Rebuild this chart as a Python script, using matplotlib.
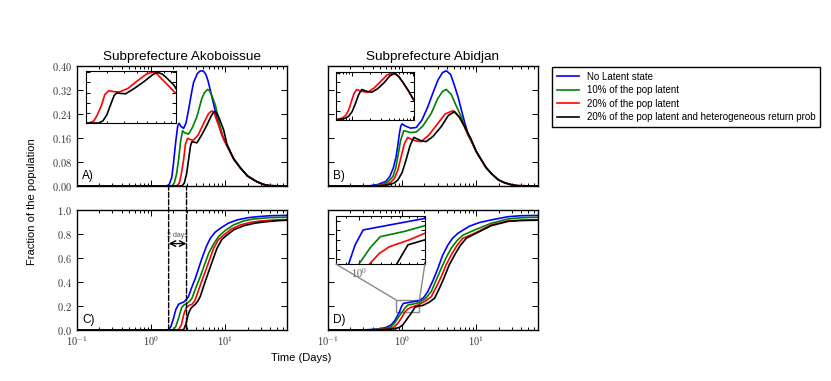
import math
import matplotlib
matplotlib.use('Agg')
import matplotlib.pyplot as plt
from matplotlib.ticker import FuncFormatter, LogLocator, NullFormatter
from matplotlib.patches import ConnectionPatch, Rectangle

plt.rcParams['font.family'] = ['Liberation Sans', 'DejaVu Sans']
plt.rcParams['mathtext.fontset'] = 'cm'

# ---------------- data ----------------
labels = ['No Latent state', '10% of the pop latent', '20% of the pop latent',
          '20% of the pop latent and heterogeneous return prob']
colors = ['#0000ff', '#008000', '#ff0000', '#000000']

# A) Akoboissue, fraction infected
tail_a_t = [13, 16, 20, 26.8, 33, 40, 70]
tail_a_y = [0.09, 0.06, 0.033, 0.014, 0.005, 0.001, 0.0]
a_blue_t = [0.1, 1.6, 1.75, 1.9, 2.0, 2.15, 2.28, 2.38, 2.5, 2.74, 2.95, 3.19, 3.5, 3.73, 4.2, 4.55, 4.93, 5.2, 5.5, 5.85, 6.27, 7.0, 7.72, 9.0, 10.5] + tail_a_t
a_blue_y = [0, 0, 0.005, 0.03, 0.076, 0.15, 0.2, 0.209, 0.2, 0.192, 0.21, 0.253, 0.31, 0.345, 0.375, 0.383, 0.384, 0.38, 0.37, 0.35, 0.32, 0.27, 0.225, 0.17, 0.135] + tail_a_y
a_green_t = [0.1, 1.9, 2.05, 2.2, 2.34, 2.5, 2.65, 2.8, 3.19, 3.6, 4.14, 4.8, 5.2, 5.77, 6.1, 6.5, 7.33, 8.3, 9.3, 10.5] + tail_a_t
a_green_y = [0, 0, 0.01, 0.04, 0.087, 0.15, 0.184, 0.178, 0.173, 0.195, 0.231, 0.29, 0.31, 0.322, 0.318, 0.305, 0.27, 0.21, 0.165, 0.135] + tail_a_y
a_red_t = [0.1, 2.2, 2.4, 2.55, 2.74, 2.9, 3.1, 3.35, 3.73, 4.3, 5.1, 5.9, 6.3, 6.73, 7.1, 7.5, 8.55, 9.5, 10.5] + tail_a_t
a_red_y = [0, 0, 0.01, 0.04, 0.087, 0.14, 0.159, 0.155, 0.153, 0.17, 0.209, 0.24, 0.247, 0.25, 0.242, 0.225, 0.187, 0.155, 0.135] + tail_a_y
a_black_t = [0.1, 2.6, 2.8, 3.0, 3.19, 3.4, 3.55, 3.8, 4.14, 4.8, 5.65, 6.5, 6.9, 7.33, 7.8, 8.3, 9.5, 10.5] + tail_a_t
a_black_y = [0, 0, 0.01, 0.04, 0.087, 0.135, 0.148, 0.146, 0.144, 0.17, 0.203, 0.235, 0.245, 0.248, 0.24, 0.225, 0.187, 0.14] + tail_a_y

# B) Abidjan, fraction infected
tail_b_t = [10, 11.7, 13.5, 15.9, 20, 24, 30, 36, 70]
tail_b_y = [0.115, 0.087, 0.062, 0.042, 0.02, 0.011, 0.004, 0.001, 0.0]
b_blue_t = [0.1, 0.35, 0.47, 0.6, 0.68, 0.76, 0.83, 0.88, 0.92, 0.96, 1.0, 1.1, 1.3, 1.55, 1.85, 2.22, 2.6, 3.04, 3.5, 3.94, 4.5, 5.0, 5.66, 6.27, 7.0, 7.7, 8.55] + tail_b_t
b_blue_y = [0, 0, 0.005, 0.015, 0.031, 0.06, 0.098, 0.14, 0.176, 0.2, 0.207, 0.2, 0.193, 0.195, 0.22, 0.264, 0.31, 0.353, 0.378, 0.384, 0.372, 0.34, 0.298, 0.255, 0.21, 0.176, 0.15] + tail_b_y
b_green_t = [0.1, 0.4, 0.55, 0.65, 0.75, 0.82, 0.875, 0.95, 1.05, 1.15, 1.3, 1.55, 1.9, 2.47, 3.0, 3.5, 3.94, 4.6, 5.3, 6.27, 7.0, 7.7, 8.55] + tail_b_t
b_green_y = [0, 0, 0.005, 0.015, 0.031, 0.06, 0.098, 0.15, 0.184, 0.182, 0.178, 0.18, 0.2, 0.242, 0.29, 0.315, 0.322, 0.305, 0.27, 0.231, 0.195, 0.17, 0.15] + tail_b_y
b_red_t = [0.1, 0.45, 0.6, 0.7, 0.79, 0.88, 0.97, 1.07, 1.19, 1.35, 1.55, 1.81, 2.3, 3.04, 3.8, 4.84, 5.8, 6.95, 8.55] + tail_b_t
b_red_y = [0, 0, 0.005, 0.012, 0.026, 0.055, 0.098, 0.14, 0.162, 0.155, 0.15, 0.148, 0.17, 0.209, 0.24, 0.251, 0.232, 0.198, 0.152] + tail_b_y
b_black_t = [0.1, 0.5, 0.65, 0.78, 0.875, 1.0, 1.13, 1.28, 1.44, 1.65, 1.85, 2.11, 2.6, 3.37, 4.2, 5.1, 6.0, 7.33, 8.55] + tail_b_t
b_black_y = [0, 0, 0.004, 0.01, 0.02, 0.045, 0.087, 0.135, 0.162, 0.155, 0.15, 0.148, 0.165, 0.198, 0.235, 0.248, 0.228, 0.187, 0.155] + tail_b_y

# C) Akoboissue, cumulative fraction
c_blue_t = [0.1, 1.6, 1.71, 1.85, 2.0, 2.15, 2.34, 2.55, 2.74, 2.95, 3.19, 3.5, 3.94, 4.84, 5.5, 6.27, 7.3, 8.55, 11, 14.4, 20, 26.8, 40, 70]
c_blue_y = [0, 0, 0.003, 0.03, 0.097, 0.17, 0.214, 0.225, 0.232, 0.25, 0.278, 0.35, 0.43, 0.597, 0.69, 0.764, 0.815, 0.847, 0.89, 0.917, 0.935, 0.944, 0.952, 0.955]
c_green_t = [0.1, 1.9, 2.0, 2.15, 2.34, 2.59, 2.8, 3.04, 3.3, 3.55, 4.0, 4.59, 5.96, 7.0, 8.1, 10, 12.9, 18, 24, 40, 70]
c_green_y = [0, 0, 0.003, 0.03, 0.097, 0.19, 0.21, 0.222, 0.24, 0.264, 0.35, 0.444, 0.639, 0.72, 0.778, 0.83, 0.875, 0.91, 0.925, 0.936, 0.94]
c_red_t = [0.1, 2.2, 2.34, 2.55, 2.74, 2.9, 3.04, 3.3, 3.55, 3.85, 4.14, 4.7, 5.37, 6.95, 8.0, 9.5, 12, 15.9, 22, 29.6, 45, 70]
c_red_y = [0, 0, 0.003, 0.04, 0.125, 0.17, 0.194, 0.207, 0.214, 0.24, 0.292, 0.39, 0.486, 0.681, 0.75, 0.79, 0.84, 0.875, 0.897, 0.908, 0.916, 0.92]
c_black_t = [0.1, 2.6, 2.74, 2.95, 3.1, 3.25, 3.44, 3.7, 3.94, 4.25, 4.59, 5.2, 5.96, 7.72, 9.0, 10.5, 13, 17.8, 25, 33, 50, 70]
c_black_y = [0, 0, 0.003, 0.05, 0.111, 0.15, 0.181, 0.2, 0.214, 0.24, 0.278, 0.38, 0.486, 0.681, 0.755, 0.79, 0.835, 0.869, 0.89, 0.9, 0.91, 0.915]

# D) Abidjan, cumulative fraction
d_blue_t = [0.1, 0.3, 0.47, 0.6, 0.71, 0.8, 0.875, 0.92, 0.97, 1.035, 1.3, 1.71, 1.95, 2.22, 2.6, 3.04, 3.5, 4.14, 4.8, 5.66, 8.1, 11, 15.9, 26.8, 40, 70]
d_blue_y = [0, 0, 0.008, 0.02, 0.042, 0.08, 0.125, 0.15, 0.19, 0.221, 0.232, 0.245, 0.27, 0.32, 0.41, 0.514, 0.62, 0.708, 0.765, 0.806, 0.865, 0.895, 0.917, 0.944, 0.952, 0.955]
d_green_t = [0.1, 0.35, 0.58, 0.7, 0.79, 0.9, 1.0, 1.1, 1.19, 1.45, 1.71, 2.05, 2.47, 2.9, 3.37, 3.9, 4.59, 5.5, 6.6, 9.5, 15.9, 26.8, 40, 70]
d_green_y = [0, 0, 0.01, 0.025, 0.056, 0.11, 0.15, 0.185, 0.207, 0.218, 0.23, 0.26, 0.32, 0.42, 0.514, 0.6, 0.681, 0.745, 0.79, 0.833, 0.889, 0.925, 0.935, 0.94]
d_red_t = [0.1, 0.4, 0.68, 0.78, 0.875, 0.98, 1.09, 1.18, 1.28, 1.5, 1.71, 2.05, 2.47, 2.9, 3.37, 3.9, 4.59, 5.5, 6.6, 9.5, 15.9, 26.8, 40, 70]
d_red_y = [0, 0, 0.01, 0.025, 0.056, 0.1, 0.15, 0.172, 0.186, 0.2, 0.214, 0.24, 0.278, 0.36, 0.444, 0.54, 0.625, 0.705, 0.764, 0.806, 0.875, 0.908, 0.915, 0.92]
d_black_t = [0.1, 0.5, 0.79, 0.92, 1.02, 1.1, 1.19, 1.28, 1.36, 1.49, 1.7, 1.91, 2.3, 2.74, 3.2, 3.73, 4.3, 5.1, 6.1, 7.33, 9.5, 15.9, 26.8, 40, 70]
d_black_y = [0, 0, 0.01, 0.022, 0.042, 0.07, 0.1, 0.127, 0.15, 0.19, 0.2, 0.205, 0.23, 0.264, 0.35, 0.444, 0.54, 0.625, 0.705, 0.764, 0.8, 0.869, 0.905, 0.912, 0.915]

inf_ticks = [0.0, 0.08, 0.16, 0.24, 0.32, 0.40]
cum_ticks = [0.0, 0.2, 0.4, 0.6, 0.8, 1.0]
shift_days = [1.72, 3.0]   # dashed lines, "2 days"

# ----------------------------------------------------------
fig = plt.figure(figsize=(8.31, 3.81), dpi=100)
W, H = 0.2527, 0.315
axA = fig.add_axes([0.0927, 0.5118, W, H])
axB = fig.add_axes([0.3947, 0.5118, W, H])
axC = fig.add_axes([0.0927, 0.1339, W, H])
axD = fig.add_axes([0.3947, 0.1339, W, H])

panels = {
    axA: [(a_blue_t, a_blue_y), (a_green_t, a_green_y), (a_red_t, a_red_y), (a_black_t, a_black_y)],
    axB: [(b_blue_t, b_blue_y), (b_green_t, b_green_y), (b_red_t, b_red_y), (b_black_t, b_black_y)],
    axC: [(c_blue_t, c_blue_y), (c_green_t, c_green_y), (c_red_t, c_red_y), (c_black_t, c_black_y)],
    axD: [(d_blue_t, d_blue_y), (d_green_t, d_green_y), (d_red_t, d_red_y), (d_black_t, d_black_y)],
}

pow_fmt = FuncFormatter(lambda v, p: r'$10^{%d}$' % round(math.log10(v)))


def style(ax, xlabels=True, ylabels=True, nd=2, ticks=None):
    ax.set_xscale('log')
    ax.set_xlim(0.1, 68)
    ax.xaxis.set_major_locator(LogLocator(base=10))
    ax.xaxis.set_minor_locator(LogLocator(base=10, subs=range(2, 10)))
    ax.tick_params(which='both', direction='in', top=True, right=True,
                   labelsize=7.5, labelcolor='#333333', width=0.7)
    ax.tick_params(which='major', length=4)
    ax.tick_params(which='minor', length=2)
    if ticks is not None:
        ax.set_yticks(ticks)
        ax.set_ylim(ticks[0], ticks[-1])
    if xlabels:
        ax.xaxis.set_major_formatter(pow_fmt)
    else:
        ax.xaxis.set_major_formatter(NullFormatter())
    ax.xaxis.set_minor_formatter(NullFormatter())
    if ylabels:
        ax.yaxis.set_major_formatter(FuncFormatter(lambda v, p: r'$%.*f$' % (nd, v)))
    else:
        ax.yaxis.set_major_formatter(NullFormatter())
    for s in ax.spines.values():
        s.set_linewidth(1.0)


for ax, curves in panels.items():
    for (t, y), c, lab in zip(curves, colors, labels):
        ax.plot(t, y, color=c, lw=1.2, label=lab)

style(axA, xlabels=False, ylabels=True, nd=2, ticks=inf_ticks)
style(axB, xlabels=False, ylabels=False, ticks=inf_ticks)
style(axC, xlabels=True, ylabels=True, nd=1, ticks=cum_ticks)
style(axD, xlabels=True, ylabels=False, ticks=cum_ticks)

axA.set_title('Subprefecture Akoboissue', fontsize=9.7, pad=4)
axB.set_title('Subprefecture Abidjan', fontsize=9.7, pad=4)
for ax, letter in zip([axA, axB, axC, axD], 'ABCD'):
    ax.text(0.025, 0.06, letter + ')', transform=ax.transAxes, fontsize=8.5)

fig.text(0.038, 0.47, 'Fraction of the population', rotation=90,
         ha='center', va='center', fontsize=8)
fig.text(0.362, 0.06, 'Time (Days)', ha='center', va='center', fontsize=8)

# insets with the two latent scenarios
insA = fig.add_axes([0.1035, 0.677, 0.108, 0.136])
for (t, y), c in zip(panels[axA][2:], colors[2:]):
    insA.plot(t, y, color=c, lw=1.2)
insA.set_xscale('log')
insA.set_xlim(2.1, 9.8)
insA.set_ylim(0, 0.255)
insB = fig.add_axes([0.4043, 0.685, 0.0939, 0.126])
for (t, y), c in zip(panels[axB][2:], colors[2:]):
    insB.plot(t, y, color=c, lw=1.2)
insB.set_xscale('log')
insB.set_xlim(0.54, 10.5)
insB.set_ylim(0, 0.255)
for ins in (insA, insB):
    ins.set_yticks([0.05, 0.10, 0.15, 0.20, 0.25])
    ins.tick_params(which='both', direction='in', top=True, right=True,
                    labelbottom=False, labelleft=False, width=0.7)
    ins.tick_params(which='major', length=3)
    ins.tick_params(which='minor', length=1.5)
    ins.xaxis.set_minor_formatter(NullFormatter())

# zoom inset in D
x0, x1, y0, y1 = 0.83, 1.71, 0.15, 0.25
insD = fig.add_axes([0.4043, 0.307, 0.107, 0.126])
for (t, y), c in zip(panels[axD], colors):
    insD.plot(t, y, color=c, lw=1.2)
insD.set_xscale('log')
insD.set_xlim(x0, x1)
insD.set_ylim(y0, y1)
insD.set_yticks([0.16, 0.18, 0.20, 0.22, 0.24])
insD.set_xticks([1.0])
insD.xaxis.set_major_formatter(pow_fmt)
insD.xaxis.set_minor_formatter(NullFormatter())
insD.tick_params(which='both', direction='in', top=True, right=True,
                 labelleft=False, labelsize=7.5, labelcolor='#555555', width=0.7, pad=2)
insD.tick_params(which='major', length=3)
insD.tick_params(which='minor', length=1.5)
axD.add_patch(Rectangle((x0, y0), x1 - x0, y1 - y0, fill=False, ec='#888888', lw=1))
for xa, xb in [((0, 0), (x0, y1)), ((1, 0), (x1, y1))]:
    fig.add_artist(ConnectionPatch(xyA=xa, coordsA=insD.transAxes, xyB=xb,
                                   coordsB=axD.transData, color='#888888', lw=1))

# dashed lines and 2 days arrow
for xd in shift_days:
    fig.add_artist(ConnectionPatch(xyA=(xd, 0), coordsA=axC.transData,
                                   xyB=(xd, 0), coordsB=axA.transData,
                                   color='k', lw=1, linestyle='--'))
axC.annotate('', xy=(shift_days[0], 0.72), xytext=(shift_days[1], 0.72),
             arrowprops=dict(arrowstyle='<->', color='k', lw=1, shrinkA=0, shrinkB=0))
axC.text(2.28, 0.76, '2 days', fontsize=5, color='#555555', ha='center', va='bottom')

fig.legend(handles=axA.get_lines(), loc='upper left', bbox_to_anchor=(0.659, 0.837),
           fontsize=7, fancybox=False, edgecolor='k', framealpha=1, handlelength=2.2,
           borderpad=0.5, labelspacing=0.35)
fig.savefig('out.png', dpi=100)
